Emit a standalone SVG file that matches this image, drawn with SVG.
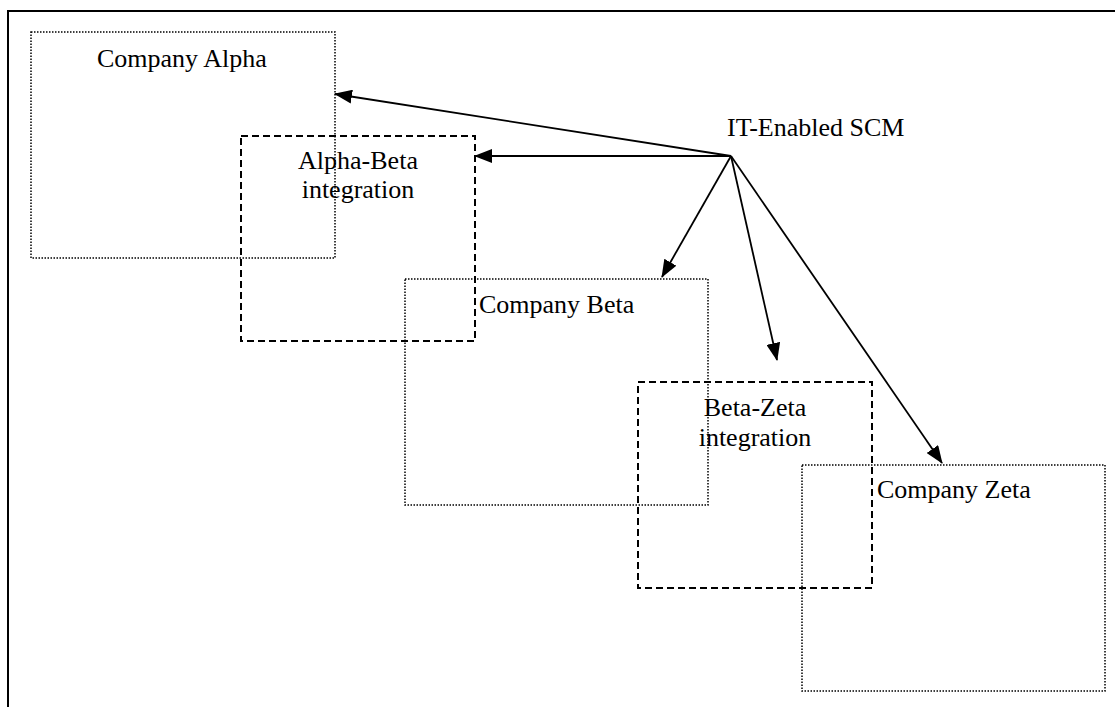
<svg xmlns="http://www.w3.org/2000/svg" width="1115" height="707" viewBox="0 0 1115 707">
<style>
text{font-family:"Liberation Serif","Times New Roman",serif;font-size:26px;fill:#000}
.dot{fill:none;stroke:#000;stroke-width:1.5;stroke-dasharray:1.5 1.5}
.dash{fill:none;stroke:#000;stroke-width:2;stroke-dasharray:7 4}
.arr{fill:none;stroke:#000;stroke-width:1.8;marker-end:url(#ah)}
</style>
<defs>
<marker id="ah" markerWidth="18" markerHeight="14" refX="17" refY="7" orient="auto" markerUnits="userSpaceOnUse">
<path d="M0,0 L18,7 L0,14 Z" fill="#000"/>
</marker>
</defs>
<rect width="1115" height="707" fill="#fff"/>
<path d="M8,707 V11 H1115" fill="none" stroke="#000" stroke-width="2"/>
<g id="alpha">
<rect class="dot" x="31" y="32" width="304" height="226"/>
<text x="97" y="67">Company Alpha</text>
</g>
<g id="alpha-beta">
<rect class="dash" x="241" y="136" width="234" height="205"/>
<text x="358" y="169" text-anchor="middle">Alpha-Beta</text>
<text x="358" y="198" text-anchor="middle">integration</text>
</g>
<g id="beta">
<rect class="dot" x="405" y="279" width="303" height="226"/>
<text x="479" y="313">Company Beta</text>
</g>
<g id="beta-zeta">
<rect class="dash" x="638" y="382" width="234" height="206"/>
<text x="755" y="416" text-anchor="middle">Beta-Zeta</text>
<text x="755" y="446" text-anchor="middle">integration</text>
</g>
<g id="zeta">
<rect class="dot" x="802" y="465" width="303" height="226"/>
<text x="877" y="498">Company Zeta</text>
</g>
<g id="scm">
<text x="727" y="136">IT-Enabled SCM</text>
</g>
<g id="connectors">
<line class="arr" x1="731" y1="156" x2="335" y2="94"/>
<line class="arr" x1="731" y1="156" x2="475" y2="156"/>
<line class="arr" x1="731" y1="156" x2="662" y2="277"/>
<line class="arr" x1="731" y1="156" x2="777" y2="360"/>
<line class="arr" x1="731" y1="156" x2="942" y2="463"/>
</g>
</svg>
